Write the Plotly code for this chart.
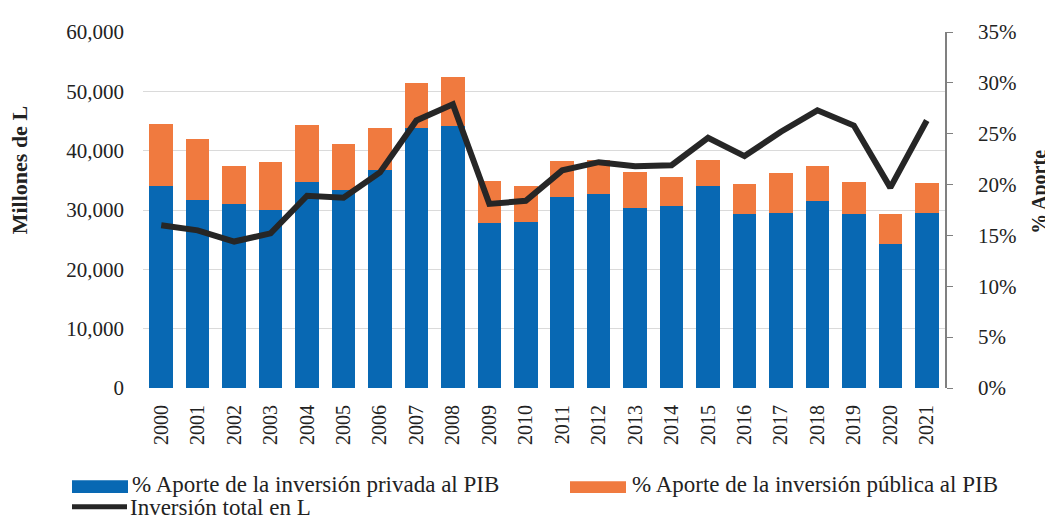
import plotly.graph_objects as go

years = [str(y) for y in range(2000, 2022)]
privada = [34100, 31750, 31050, 29950, 34650, 33300, 36750, 43900, 44150, 27750, 28050,
           32200, 32750, 30300, 30700, 34100, 29300, 29550, 31600, 29400, 24350, 29550]
publica = [10350, 10300, 6400, 8100, 9650, 7900, 7050, 7500, 8250, 7100, 6050,
           6050, 5600, 6100, 4900, 4300, 5100, 6750, 5850, 5350, 5000, 5000]
total_pct = [16.0, 15.5, 14.4, 15.2, 18.9, 18.7, 21.2, 26.3, 27.9, 18.1, 18.4,
             21.4, 22.2, 21.8, 21.9, 24.6, 22.8, 25.2, 27.3, 25.8, 19.7, 26.3]

left_ticks = [0, 10000, 20000, 30000, 40000, 50000, 60000]
right_ticks = [0, 5, 10, 15, 20, 25, 30, 35]
right_labels = ["0%", "5%", "10%", "15%", "20%", "25%", "30%", "35%"]

names = ["% Aporte de la inversión privada al PIB",
         "% Aporte de la inversión pública al PIB",
         "Inversión total en L"]
BLUE = "#0868b3"
ORANGE = "#f07a3f"
LINE = "#262626"
FONT = "Liberation Serif"
TXT = "#222222"

fig = go.Figure()
fig.add_trace(go.Bar(x=years, y=privada, name=names[0], marker_color=BLUE,
                     marker_line_width=0, showlegend=False))
fig.add_trace(go.Bar(x=years, y=publica, name=names[1], marker_color=ORANGE,
                     marker_line_width=0, showlegend=False))
fig.add_trace(go.Scatter(x=years, y=total_pct, name=names[2], yaxis="y2", mode="lines",
                         line=dict(color=LINE, width=6), showlegend=False))

# page has an 8px body margin; work in page pixels and convert
OFF = 8
W, H = 1053 - OFF, 523 - OFF
L, R, T, B = 143, 945, 25, 388  # plot area in page pixels
def px(x):
    return (x - L) / (R - L)
def py(y):
    return (B - y) / (B - T)

shapes = [
    dict(type="rect", xref="paper", yref="paper", x0=px(72), x1=px(128), y0=py(482), y1=py(495),
         fillcolor=BLUE, line_width=0),
    dict(type="rect", xref="paper", yref="paper", x0=px(570), x1=px(626), y0=py(483), y1=py(495),
         fillcolor=ORANGE, line_width=0),
    dict(type="line", xref="paper", yref="paper", x0=px(72), x1=px(127), y0=py(509), y1=py(509),
         line=dict(color=LINE, width=5)),
]
annotations = [
    dict(text=names[0], xref="paper", yref="paper", x=px(130), y=py(486), xanchor="left",
         yanchor="middle", showarrow=False, font=dict(family=FONT, size=23, color=TXT)),
    dict(text=names[1], xref="paper", yref="paper", x=px(630), y=py(486), xanchor="left",
         yanchor="middle", showarrow=False, font=dict(family=FONT, size=23, color=TXT)),
    dict(text=names[2], xref="paper", yref="paper", x=px(128), y=py(510), xanchor="left",
         yanchor="middle", showarrow=False, font=dict(family=FONT, size=23, color=TXT)),
    dict(text="<b>Millones de L</b>", xref="paper", yref="paper", x=px(19), y=py(166),
         xanchor="center", yanchor="middle", textangle=-90, showarrow=False,
         font=dict(family=FONT, size=22, color=TXT)),
    dict(text="<b>% Aporte</b>", xref="paper", yref="paper", x=px(1040), y=py(188),
         xanchor="center", yanchor="middle", textangle=-90, showarrow=False,
         font=dict(family=FONT, size=20, color=TXT)),
]

fig.update_layout(
    width=W, height=H,
    margin=dict(l=L - OFF, r=W - (R - OFF), t=T - OFF, b=H - (B - OFF)),
    barmode="stack", bargap=0.355,
    plot_bgcolor="white", paper_bgcolor="white",
    font=dict(family=FONT, size=20, color=TXT),
    shapes=shapes, annotations=annotations,
    xaxis=dict(type="category", tickangle=-90, showgrid=False, showline=False, ticks="",
               tickfont=dict(family=FONT, size=20, color=TXT), ticklabelstandoff=12),
    yaxis=dict(range=[0, 60000], tickvals=left_ticks, tickformat=",", showgrid=True,
               gridcolor="#dadada", gridwidth=1, zeroline=False, showline=False, ticks="",
               tickfont=dict(family=FONT, size=21, color=TXT), ticklabelstandoff=18),
    yaxis2=dict(range=[0, 35], tickvals=right_ticks, ticktext=right_labels, overlaying="y",
                side="right", showgrid=False, zeroline=False, showline=True, linecolor="#808080",
                linewidth=1.5, ticks="outside", ticklen=6, tickcolor="#808080",
                tickfont=dict(family=FONT, size=21, color=TXT), ticklabelstandoff=21),
)

fig.write_html("out.html")
